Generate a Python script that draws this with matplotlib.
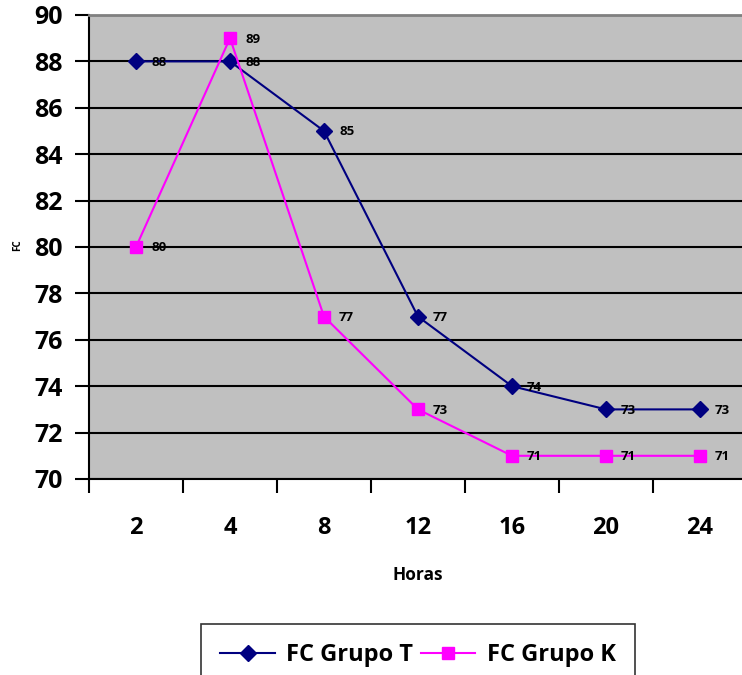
import matplotlib
matplotlib.use("Agg")
import matplotlib.pyplot as plt
import numpy as np

plt.rcParams['font.family'] = ['Open Sans', 'DejaVu Sans']
plt.rcParams['font.weight'] = 'bold'

# 데이터
horas = ['2', '4', '8', '12', '16', '20', '24']
grupo_t = [88, 88, 85, 77, 74, 73, 73]
grupo_k = [80, 89, 77, 73, 71, 71, 71]

fig = plt.figure(figsize=(7.42, 6.75), dpi=100)
ax = fig.add_axes([89 / 742, 196 / 675, 658 / 742, 464 / 675])
ax.set_facecolor('#C0C0C0')

x = np.arange(len(horas))

ax.plot(x, grupo_t, color='#000080', lw=1.5, marker='D', ms=8,
        label='FC Grupo T', zorder=3)
ax.plot(x, grupo_k, color='#FF00FF', lw=1.5, marker='s', ms=8,
        label='FC Grupo K', zorder=3)

for xi, v in zip(x, grupo_t):
    ax.annotate(str(v), (xi, v), xytext=(15, -1), textcoords='offset pixels',
                ha='left', va='center', fontsize=9.5, fontweight='bold', zorder=4)
for xi, v in zip(x, grupo_k):
    ax.annotate(str(v), (xi, v), xytext=(15, -1), textcoords='offset pixels',
                ha='left', va='center', fontsize=9.5, fontweight='bold', zorder=4)

ax.set_xlim(-0.5, len(horas) - 0.5)
ax.set_ylim(70, 90)
ax.set_yticks(range(70, 91, 2))
ax.yaxis.grid(True, color='black', lw=1.5)
ax.set_axisbelow(True)

# ticks nas divisas das categorias, rótulos no centro
ax.set_xticks(np.arange(-0.5, len(horas), 1))
ax.set_xticklabels([])
ax.set_xticks(x, minor=True)
ax.set_xticklabels(horas, minor=True, fontsize=17, fontweight='bold')
ax.tick_params(axis='x', which='major', length=10, width=1.5, direction='out')
ax.tick_params(axis='x', which='minor', length=0, pad=27)
ax.tick_params(axis='y', length=10, width=1.5, direction='out', pad=9,
               labelsize=18)
for lab in ax.get_yticklabels():
    lab.set_fontweight('bold')

ax.spines['left'].set_color('black')
ax.spines['left'].set_linewidth(1.5)
ax.spines['bottom'].set_color('black')
ax.spines['bottom'].set_linewidth(1.5)
ax.spines['top'].set_color('#808080')
ax.spines['top'].set_linewidth(2)
ax.spines['right'].set_visible(False)

ax.set_xlabel('Horas', fontsize=12.5, fontweight='bold', labelpad=18)
fig.text(18 / 742, 1 - 245 / 675, 'FC', rotation=90, fontsize=7,
         fontweight='bold', ha='center', va='center')

leg = fig.legend(loc='upper center', bbox_to_anchor=(418 / 742, 1 - 624 / 675),
                 ncol=2, fontsize=17, frameon=True, fancybox=False,
                 edgecolor='black', handlelength=2.3, columnspacing=0.3,
                 handletextpad=0.5, borderpad=0.8, borderaxespad=0)
leg.get_frame().set_linewidth(1.2)
for t in leg.get_texts():
    t.set_fontweight('bold')

plt.savefig('out.png', dpi=100)
